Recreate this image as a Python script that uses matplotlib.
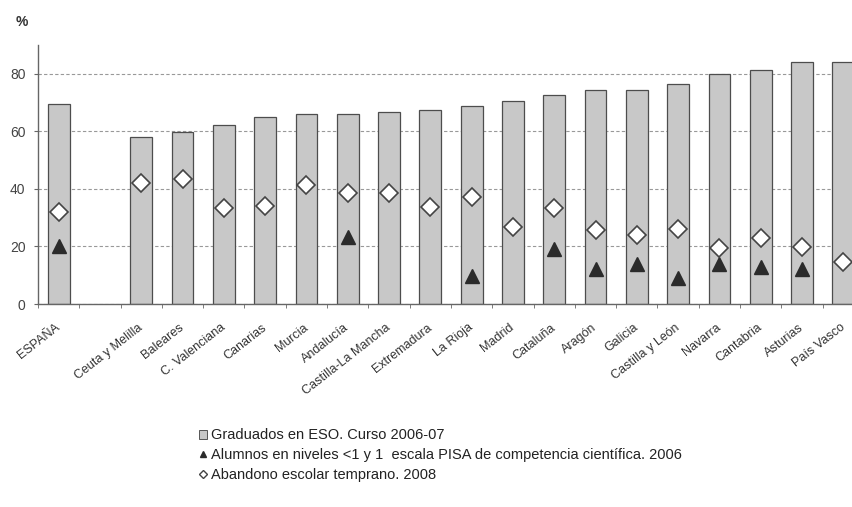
import numpy as np
import matplotlib.pyplot as plt
from matplotlib.lines import Line2D
from matplotlib.patches import Patch
plt.rc('font', family='Liberation Sans')

# datos
regiones = ["ESPAÑA", "", "Ceuta y Melilla", "Baleares", "C. Valenciana", "Canarias",
            "Murcia", "Andalucía", "Castilla-La Mancha", "Extremadura", "La Rioja",
            "Madrid", "Cataluña", "Aragón", "Galicia", "Castilla y León", "Navarra",
            "Cantabria", "Asturias", "País Vasco"]
graduados = [69.5, np.nan, 58.0, 59.7, 62.3, 65.0, 65.9, 66.0, 66.8, 67.4, 68.9,
             70.4, 72.5, 74.2, 74.2, 76.3, 80.0, 81.4, 84.1, 84.1]
pisa = [20.0, np.nan, np.nan, np.nan, np.nan, np.nan, np.nan, 23.2, np.nan, np.nan, 9.9,
        np.nan, 19.1, 12.2, 14.0, 8.9, 13.8, 12.9, 12.1, np.nan]
abandono = [32.0, np.nan, 42.2, 43.4, 33.2, 34.1, 41.2, 38.7, 38.4, 33.6, 37.3,
            26.9, 33.4, 25.7, 24.1, 26.0, 19.4, 23.0, 19.7, 14.7]

x = np.arange(len(regiones))
fig = plt.figure(figsize=(8.53, 5.07), dpi=100)
ax = fig.add_axes([38 / 853, 1 - 304 / 507, 826 / 853, 259 / 507])

ax.bar(x, graduados, width=0.53, color='#c8c8c8', edgecolor='#4d4d4d', linewidth=0.9, zorder=2)
ax.plot(x, pisa, linestyle='none', marker='^', markersize=10, color='#2b2b2b', zorder=3)
ax.plot(x, abandono, linestyle='none', marker='D', markersize=9, markerfacecolor='white',
        markeredgecolor='#444444', markeredgewidth=1.2, zorder=4)

ax.set_xlim(-0.5, len(regiones) - 0.5)
ax.set_ylim(0, 90)
ax.set_yticks([0, 20, 40, 60, 80])
ax.yaxis.grid(True, linestyle=(0, (3, 2)), color='#999999', linewidth=0.8, zorder=0)
ax.set_axisbelow(True)
for s in ['top', 'right']:
    ax.spines[s].set_visible(False)
for s in ['left', 'bottom']:
    ax.spines[s].set_color('#666666')
    ax.spines[s].set_linewidth(1.0)

ax.set_xticks(x)
ax.set_xticklabels(regiones, rotation=38, ha='right', va='center', rotation_mode='anchor',
                   fontsize=9, color='#333333')
ax.tick_params(axis='x', length=0, pad=16)
ax.set_xticks(np.arange(-0.5, len(regiones), 1), minor=True)
ax.tick_params(axis='x', which='minor', length=3, color='#666666')
ax.tick_params(axis='y', length=3, color='#666666', labelsize=10, labelcolor='#444444', pad=6)

fig.text(22 / 853, 1 - 22 / 507, '%', fontsize=10, color='#333333', fontweight='bold',
         ha='center', va='center')

handles = [
    Patch(facecolor='#c8c8c8', edgecolor='#555555', linewidth=0.7),
    Line2D([], [], linestyle='none', marker='^', markersize=5, color='#2b2b2b'),
    Line2D([], [], linestyle='none', marker='D', markersize=4.5, markerfacecolor='white',
           markeredgecolor='#444444'),
]
labels = ['Graduados en ESO. Curso 2006-07',
          'Alumnos en niveles <1 y 1  escala PISA de competencia científica. 2006',
          'Abandono escolar temprano. 2008']
fig.legend(handles, labels, loc='upper left', bbox_to_anchor=(192 / 853, 1 - 421 / 507),
           frameon=False, fontsize=10.5, handlelength=0.55, handleheight=0.55, handletextpad=0.25,
           labelspacing=0.4, borderpad=0, labelcolor='#222222')

plt.savefig('out.png', dpi=100)
